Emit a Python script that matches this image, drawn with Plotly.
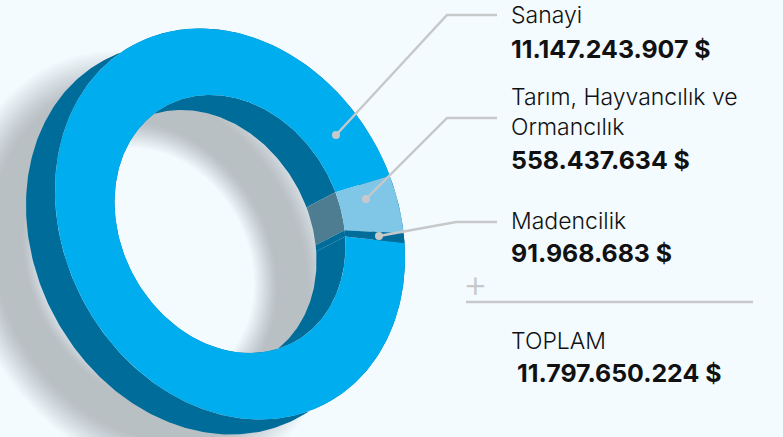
import numpy as np
import plotly.graph_objects as go

categories = ["Sanayi", "Tarım, Hayvancılık ve<br>Ormancılık", "Madencilik"]
values = [11147243907, 558437634, 91968683]
total_label = "TOPLAM"
total_value = 11797650224

FACE = ["#00adee", "#80c6e6", "#006c9a"]
WALL = ["#006c9a", "#4e7c91", "#006c9a"]
BG = "#f3fbff"
GRAY = "#b9c0c4"
LINE = "#c6c8ca"
FONT = "Inter"

fmt = lambda v: f"{v:,}".replace(",", ".") + " $"

cx, cy = 230.0, 224.0
A, B = 203.5, 165.7
RATIO = 0.66
PHI = np.radians(118.5)
U = np.array([np.cos(PHI), np.sin(PHI)])
V = np.array([np.cos(PHI - np.pi / 2), np.sin(PHI - np.pi / 2)])
DEPTH = np.array([-29.0, 15.0])


def ell(t, scale=1.0, off=(0.0, 0.0)):
    x = scale * (A * np.cos(t) * U[0] + B * np.sin(t) * V[0])
    y = scale * (A * np.cos(t) * U[1] + B * np.sin(t) * V[1])
    return cx + off[0] + x, cy + off[1] - y


d = np.array([np.cos(np.radians(-6.2)), np.sin(np.radians(-6.2))])
t0 = np.arctan2(d @ V / B, d @ U / A)
shares = np.array(values) / sum(values) * 2 * np.pi
edges = t0 + np.concatenate([[0], np.cumsum(shares)])


def arc(a, b, n=None):
    n = n or max(8, int(abs(b - a) / np.radians(1)))
    return np.linspace(a, b, n)


fig = go.Figure()


def poly(x, y, color, opacity=1.0):
    fig.add_trace(go.Scatter(x=x, y=y, mode="lines", fill="toself", fillcolor=color,
                             line=dict(width=0, color=color), opacity=opacity,
                             hoverinfo="skip", showlegend=False))


# soft cast shadow: stacked ring layers
N = 16
full = arc(0, 2 * np.pi, 361)
for k in range(1, N + 1):
    f = (k - 1) / (N - 1) - 0.5
    xo, yo = ell(full, 1.0 - f * 0.18, (-80.0, 40.0))
    xi, yi = ell(full[::-1], RATIO + f * 0.13, (-80.0, 40.0))
    poly(np.r_[xo, xi], np.r_[yo, yi], GRAY, 1 / (N - k + 1))

# outer side wall
xa, ya = ell(full)
xb, yb = ell(full[::-1], 1.0, DEPTH)
poly(np.r_[xa, xb], np.r_[ya, yb], WALL[0])

# inner side wall, one band per slice
for i in range(3):
    t = arc(edges[i], edges[i + 1])
    xa, ya = ell(t, RATIO)
    xb, yb = ell(t[::-1], RATIO, DEPTH)
    poly(np.r_[xa, xb], np.r_[ya, yb], WALL[i])

# front face slices
for i in range(3):
    t = arc(edges[i], edges[i + 1])
    xa, ya = ell(t)
    xb, yb = ell(t[::-1], RATIO)
    poly(np.r_[xa, xb], np.r_[ya, yb], FACE[i])

# leader lines
leaders = [
    ([336, 447, 497], [135, 15, 15]),
    ([366, 447, 497], [199, 118, 118]),
    ([379, 456, 497], [236, 222, 222]),
]
for lx, ly in leaders:
    fig.add_trace(go.Scatter(x=lx, y=ly, mode="lines", line=dict(color=LINE, width=2.4),
                             hoverinfo="skip", showlegend=False))
    fig.add_trace(go.Scatter(x=lx[:1], y=ly[:1], mode="markers",
                             marker=dict(color=LINE, size=8), hoverinfo="skip", showlegend=False))

fig.add_trace(go.Scatter(x=[466, 753], y=[302, 302], mode="lines",
                         line=dict(color=LINE, width=2.6), hoverinfo="skip", showlegend=False))


def note(x, y, text, size=23, bold=False, color="#111111"):
    t = f"<b>{text}</b>" if bold else text
    fig.add_annotation(x=x, y=y, text=t, showarrow=False, xanchor="left", yanchor="middle",
                       align="left", font=dict(family=FONT, size=size, color=color, weight=800 if bold else 300),
                       xref="x", yref="y")


note(509, 15, categories[0])
note(509, 49, fmt(values[0]), 24.9, True)
note(509, 112, categories[1])
note(509, 160, fmt(values[1]), 24.9, True)
note(509, 221, categories[2])
note(509, 253, fmt(values[2]), 24.9, True)
note(461, 283, "+", 38, False, LINE)
note(509, 341, total_label)
note(515, 373, fmt(total_value), 24.9, True)

fig.update_layout(
    width=783, height=437, margin=dict(l=0, r=0, t=0, b=0),
    paper_bgcolor=BG, plot_bgcolor=BG, showlegend=False,
    xaxis=dict(range=[0, 783], visible=False, fixedrange=True),
    yaxis=dict(range=[437, 0], visible=False, fixedrange=True),
)
fig.write_html("out.html", config=dict(displayModeBar=False),
               post_script="document.body.style.margin='0';document.body.style.background='%s';" % BG)
